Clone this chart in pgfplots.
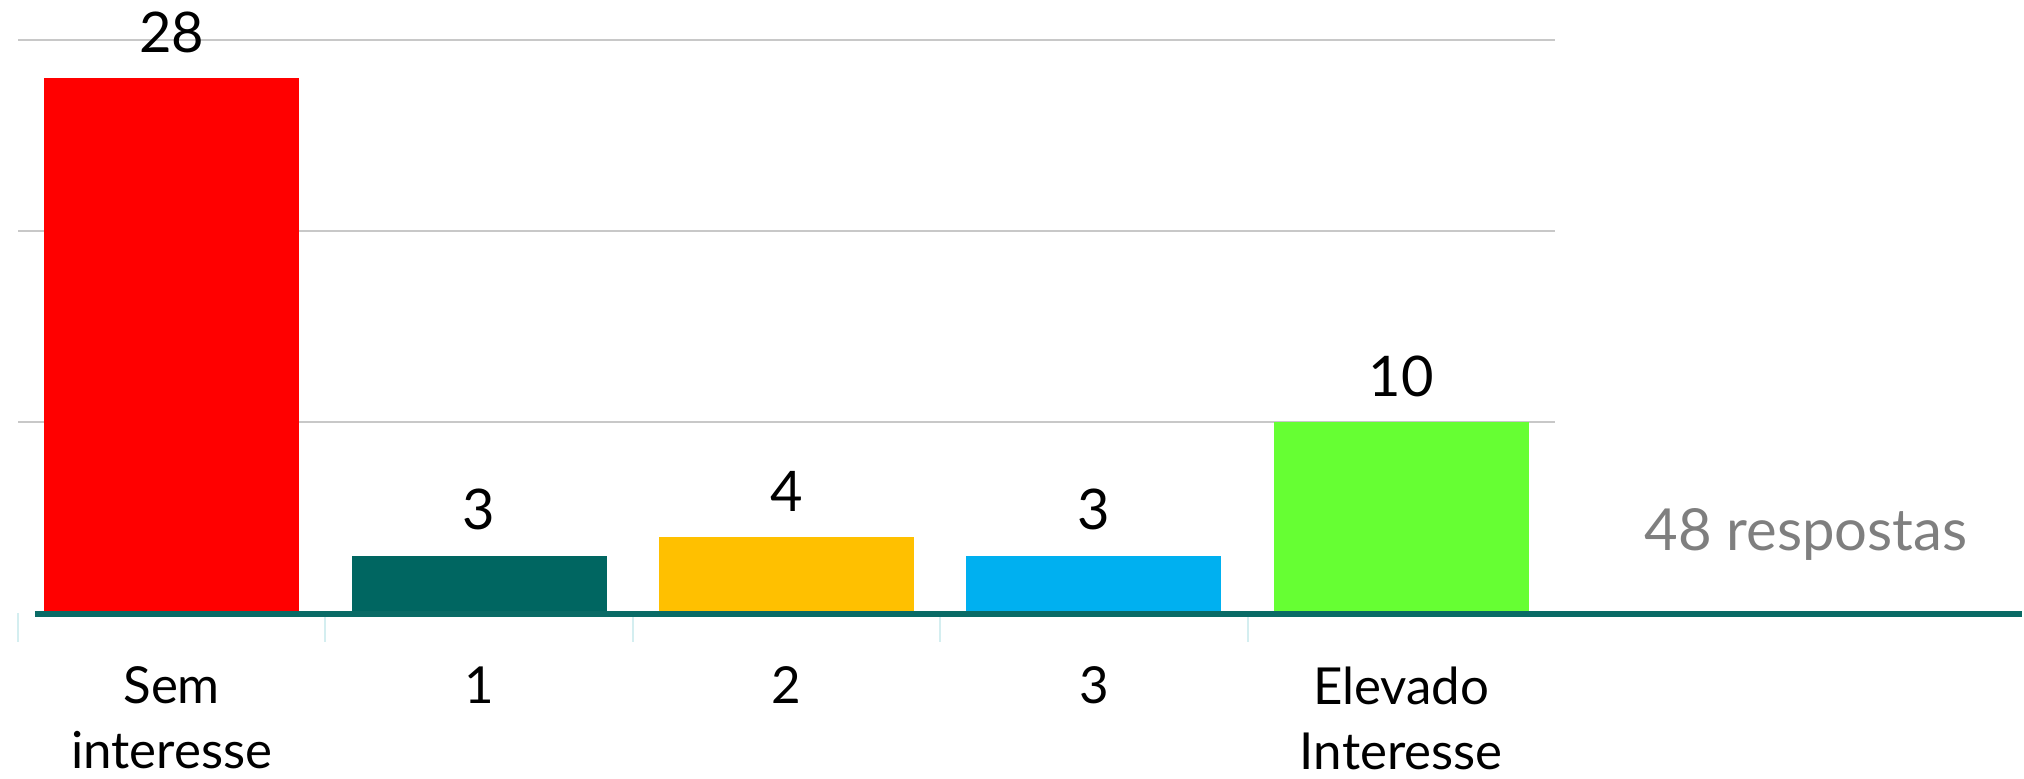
\documentclass[border=0pt]{standalone}
\usepackage{pgfplots}
\pgfplotsset{compat=1.18}
\usepackage{fontspec}
\setmainfont{Lato}
\definecolor{cred}{HTML}{FF0000}
\definecolor{cteal}{HTML}{006661}
\definecolor{cyellow}{HTML}{FFC000}
\definecolor{cblue}{HTML}{00B0F0}
\definecolor{cgreen}{HTML}{66FF33}
\definecolor{gridgray}{HTML}{C8C8C8}
\definecolor{tickcyan}{HTML}{D4EEF0}
\definecolor{lineteal}{HTML}{0A6B66}
\definecolor{txtgray}{HTML}{7F7F7F}
\begin{document}
\begin{tikzpicture}
\begin{axis}[
  scale only axis, width=768.5pt, height=286.5pt,
  xmin=-0.5, xmax=4.5, ymin=0, ymax=30,
  clip=false,
  /pgf/number format/assume math mode=true,
  axis line style={draw=none},
  ytick={10,20,30}, yticklabels={}, ymajorgrids,
  ytick style={draw=none},
  major grid style={line width=1pt, draw=gridgray},
  xtick={0,1,2,3,4},
  xticklabels={Sem\\interesse,1,2,3,Elevado\\Interesse},
  xtick style={draw=none},
  xticklabel style={align=center, inner sep=0pt, anchor=north, yshift=-22.5pt,
    font=\fontsize{25.5}{32.5}\selectfont},
  ybar, bar width=0.83,
  nodes near coords,
  every node near coord/.append style={font=\fontsize{28}{30}\selectfont, inner sep=0pt, anchor=south, yshift=12.5pt, text=black},
]
\addplot[fill=cred, draw=none, bar shift=0pt] coordinates {(0,28)};
\addplot[fill=cteal, draw=none, bar shift=0pt] coordinates {(1,3)};
\addplot[fill=cyellow, draw=none, bar shift=0pt] coordinates {(2,4)};
\addplot[fill=cblue, draw=none, bar shift=0pt] coordinates {(3,3)};
\addplot[fill=cgreen, draw=none, bar shift=0pt] coordinates {(4,10)};
\draw[tickcyan, line width=1pt] (axis cs:-0.5,0) -- (axis cs:-0.5,-1.5);
\draw[tickcyan, line width=1pt] (axis cs:0.5,0) -- (axis cs:0.5,-1.5);
\draw[tickcyan, line width=1pt] (axis cs:1.5,0) -- (axis cs:1.5,-1.5);
\draw[tickcyan, line width=1pt] (axis cs:2.5,0) -- (axis cs:2.5,-1.5);
\draw[tickcyan, line width=1pt] (axis cs:3.5,0) -- (axis cs:3.5,-1.5);
\draw[lineteal, line width=3pt] (axis cs:-0.445,-0.05) -- (axis cs:6.02,-0.05);
\node[anchor=base west, inner sep=0pt, text=txtgray, font=\fontsize{29}{30}\selectfont] at (axis cs:4.79,3.25) {48 respostas};
\end{axis}
\pgfresetboundingbox
\useasboundingbox (-9pt,-82.5pt) rectangle (1003pt,306.5pt);
\end{tikzpicture}
\end{document}
